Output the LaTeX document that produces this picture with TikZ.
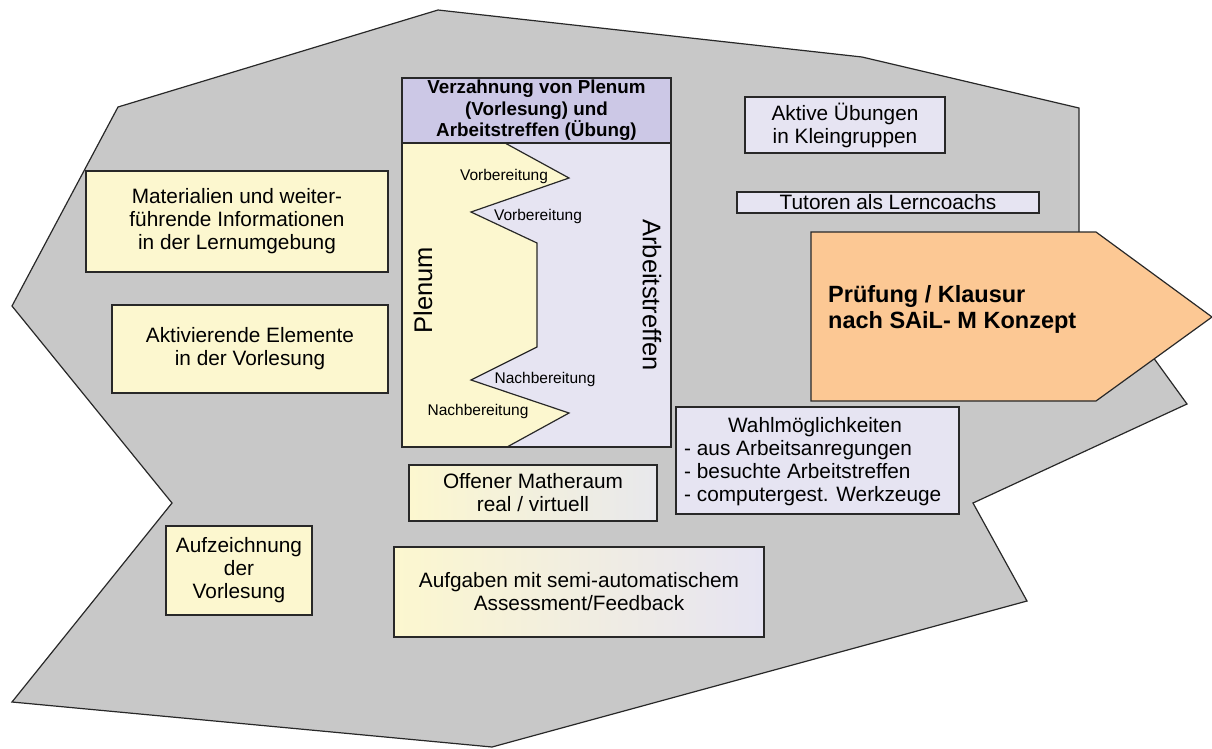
\documentclass[tikz,border=0pt]{standalone}
\usepackage{fontspec}
\setmainfont{Liberation Sans}
\definecolor{cgray}{RGB}{200,200,200}
\definecolor{cline}{RGB}{40,40,40}
\definecolor{cyel}{RGB}{252,247,207}
\definecolor{clav}{RGB}{230,228,242}
\definecolor{chead}{RGB}{204,200,230}
\definecolor{corange}{RGB}{252,200,148}
\definecolor{cgrey2}{RGB}{232,232,236}
\begin{document}
\begin{tikzpicture}[x=1pt,y=-1pt,
  box/.style={draw=cline, line width=1.3pt, inner sep=0pt, align=center},
  ybox/.style={box, fill=cyel},
  lbox/.style={box, fill=clav},
  reg/.style={font=\fontsize{20.8}{23}\selectfont},
  small/.style={font=\fontsize{15.5}{18}\selectfont, inner sep=0pt},
  big/.style={font=\fontsize{25.5}{28}\selectfont, inner sep=0pt},
  plain/.style={inner sep=0pt},
]
\useasboundingbox (0,0) rectangle (1212,748);
% background outline
\draw[line width=1.2pt, draw=cline, fill=cgray, line join=miter]
  (118,107) -- (438,10) -- (862,57) -- (1079,108) -- (1079,255) -- (1187,404)
  -- (973,503) -- (1027,601) -- (492,747) -- (12,702) -- (172,503) -- (12,306) -- cycle;

% left boxes
\node[ybox, reg, minimum width=302pt, minimum height=101pt] (mat) at (237,221.5)
  {Materialien und weiter-\\führende Informationen\\in der Lernumgebung};
\node[ybox, reg, minimum width=276pt, minimum height=88pt] (akt) at (250,349)
  {Aktivierende Elemente\\in der Vorlesung};
\node[ybox, reg, minimum width=146pt, minimum height=89pt] (auf) at (239,570.5)
  {Aufzeichnung\\der\\Vorlesung};

% bottom boxes with gradient
\node[box, reg, left color=cyel, right color=cgrey2, minimum width=248pt, minimum height=56pt] (off) at (533,493)
  {Offener Matheraum\\real / virtuell};
\node[box, reg, left color=cyel, right color=clav, minimum width=370pt, minimum height=90pt] (aufg) at (579,592)
  {Aufgaben mit semi-automatischem\\Assessment/Feedback};

% right boxes
\node[lbox, reg, minimum width=200pt, minimum height=56pt] (uebg) at (845,125)
  {Aktive Übungen\\in Kleingruppen};
\node[lbox, reg, minimum width=302pt, minimum height=21pt] (tut) at (888,202.5)
  {Tutoren als Lerncoachs};
\node[lbox, minimum width=283pt, minimum height=107pt] (wahl) at (817.5,460.5) {};
\node[plain, reg, anchor=base] (wahlt) at (815,432) {Wahlmöglichkeiten};
\node[plain, reg, align=left, anchor=north west] (wahll) at (684,440)
  {- aus Arbeitsanregungen\\- besuchte Arbeitstreffen\\- computergest. Werkzeuge};

% arrow
\draw[line width=1.2pt, draw=cline, fill=corange, line join=miter]
  (811,232) -- (1096,232) -- (1212,317) -- (1096,401) -- (811,401) -- cycle;
\node[plain, anchor=west, align=left, font=\fontsize{23.5}{26}\selectfont\bfseries] (pr) at (828,309)
  {Prüfung / Klausur\\nach SAiL- M Konzept};

% central box
\node[plain, fill=clav, minimum width=269pt, minimum height=304pt] (arb) at (536.5,295) {};
\filldraw[fill=cyel, draw=cline, line width=1.2pt, line join=miter]
  (402,143) -- (505,143) -- (569,178) -- (471,212) -- (537,243) -- (537,347)
  -- (471,380) -- (569,413) -- (507,447) -- (402,447) -- cycle;
\node[box, fill=chead, minimum width=269pt, minimum height=65pt,
  font=\fontsize{18.8}{21.5}\selectfont\bfseries] (head) at (536.5,110.5)
  {Verzahnung von Plenum\\(Vorlesung) und\\Arbeitstreffen (Übung)};
\node[box, minimum width=269pt, minimum height=369pt] (verz) at (536.5,262.5) {};

\node[small] (vb1) at (504,176) {Vorbereitung};
\node[small] (vb2) at (538,216) {Vorbereitung};
\node[small] (nb1) at (545,379) {Nachbereitung};
\node[small] (nb2) at (478,411) {Nachbereitung};
\node[big, rotate=90] (plen) at (423,290) {Plenum};
\node[big, rotate=-90] (arbt) at (652,295) {Arbeitstreffen};
\end{tikzpicture}
\end{document}
